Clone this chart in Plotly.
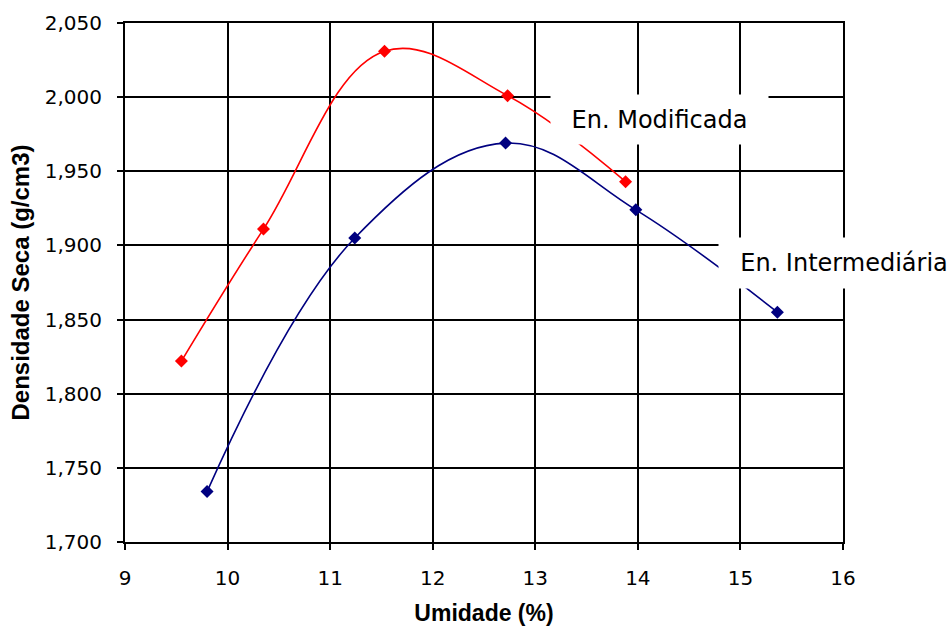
import plotly.graph_objects as go

# Compaction test results: moisture content (%) vs dry density (g/cm3)
umidade_modificada = [9.55, 10.35, 11.53, 12.73, 13.88]
densidade_modificada = [1.822, 1.911, 2.031, 2.001, 1.943]

umidade_intermediaria = [9.80, 11.24, 12.71, 13.98, 15.36]
densidade_intermediaria = [1.734, 1.905, 1.969, 1.924, 1.855]

x_ticks = [9, 10, 11, 12, 13, 14, 15, 16]
y_ticks = [1.70, 1.75, 1.80, 1.85, 1.90, 1.95, 2.00, 2.05]

# Curve labels: horizontal position in paper units, vertical in data units
labels = [
    dict(text="En. Modificada", x=0.745, y=1.9847, width=197, height=29),
    dict(text="En. Intermediária", x=1.002, y=1.8879, width=230, height=30),
]

tick_font = dict(family="DejaVu Sans", size=20, color="black")
title_font = dict(family="Liberation Sans, Arial", size=23, color="black")

fig = go.Figure()
fig.add_trace(go.Scatter(
    x=umidade_modificada, y=densidade_modificada, mode="lines+markers",
    line=dict(color="#FF0000", width=1.6, shape="spline", smoothing=1.1),
    marker=dict(symbol="diamond", size=10, color="#FF0000"),
    name="En. Modificada", showlegend=False,
))
fig.add_trace(go.Scatter(
    x=umidade_intermediaria, y=densidade_intermediaria, mode="lines+markers",
    line=dict(color="#000080", width=1.6, shape="spline", smoothing=1.1),
    marker=dict(symbol="diamond", size=10, color="#000080"),
    name="En. Intermediária", showlegend=False,
))

for lab in labels:
    fig.add_annotation(
        text=lab["text"], x=lab["x"], y=lab["y"], xref="paper", yref="y",
        showarrow=False, xanchor="center", yanchor="middle",
        width=lab["width"], height=lab["height"], borderpad=10,
        bgcolor="white", align="center",
        font=dict(family="DejaVu Sans", size=24, color="black"),
    )

axis_common = dict(
    showline=True, linecolor="black", linewidth=2, mirror=True,
    showgrid=True, gridcolor="black", gridwidth=2,
    ticks="outside", ticklen=6, tickwidth=2, tickcolor="black",
    zeroline=False, tickfont=tick_font, automargin=False,
)

fig.update_xaxes(
    range=[9, 16], tickvals=x_ticks, ticklabelstandoff=11,
    title=dict(text="<b>Umidade (%)</b>", font=title_font, standoff=16),
    **axis_common,
)
fig.update_yaxes(
    range=[1.70, 2.05], tickvals=y_ticks, tickformat=".3f", ticklabelstandoff=11,
    title=dict(text="<b>Densidade Seca (g/cm3)</b>",
               font=dict(family="Liberation Sans, Arial", size=24, color="black"),
               standoff=8),
    **axis_common,
)

fig.update_layout(
    width=951, height=630,
    margin=dict(l=125, r=107.5, t=22.5, b=87.5),
    plot_bgcolor="white", paper_bgcolor="white",
    separators=",.",
)

fig.write_html("out.html")
